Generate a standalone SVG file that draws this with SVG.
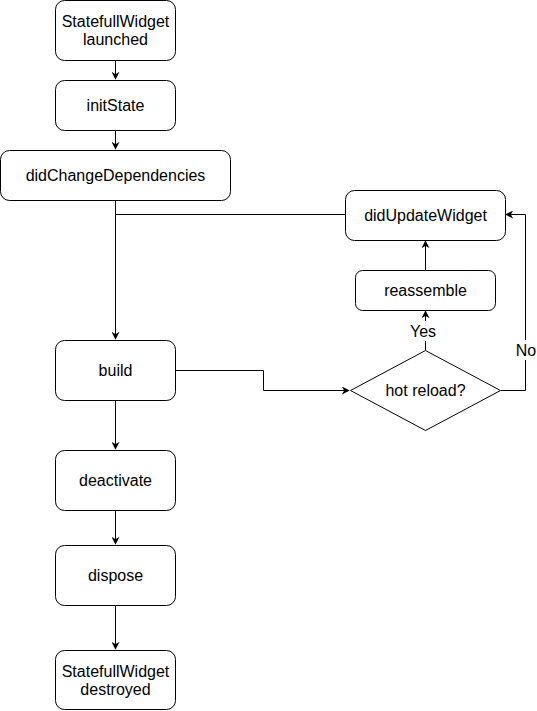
<svg xmlns="http://www.w3.org/2000/svg" width="537" height="711" viewBox="0 0 537 711">
<style>
.n{fill:#fff;stroke:#000;stroke-width:1}
.t{font-family:"Liberation Sans",Arial,sans-serif;font-size:16px;fill:#000;text-anchor:middle}
.c{fill:none;stroke:#000;stroke-width:1}
</style>
<defs>
<marker id="a" viewBox="0 0 10 10" refX="9" refY="5" markerWidth="8" markerHeight="8" markerUnits="userSpaceOnUse" orient="auto">
<path d="M0,0 L10,5 L0,10 L3,5 Z" fill="#000"/>
</marker>
</defs>
<rect width="537" height="711" fill="#fff"/>
<g id="connectors">
<path class="c" d="M115.5,60.5 V79" marker-end="url(#a)"/>
<path class="c" d="M115.5,130.5 V149" marker-end="url(#a)"/>
<path class="c" d="M115.5,200.5 V339" marker-end="url(#a)"/>
<path class="c" d="M345.5,214.5 H115.5"/>
<path class="c" d="M175.5,370.5 H263.5 V390.5 H349" marker-end="url(#a)"/>
<path class="c" d="M425.5,350.5 V311" marker-end="url(#a)"/>
<path class="c" d="M425.5,270.5 V241" marker-end="url(#a)"/>
<path class="c" d="M500.5,390.5 H525.5 V214.5 H506" marker-end="url(#a)"/>
<path class="c" d="M115.5,400.5 V449" marker-end="url(#a)"/>
<path class="c" d="M115.5,510.5 V544" marker-end="url(#a)"/>
<path class="c" d="M115.5,605.5 V649" marker-end="url(#a)"/>
<rect x="407" y="321" width="36" height="20" fill="#fff"/>
<text class="t" x="423" y="337">Yes</text>
<rect x="513" y="340" width="26" height="20" fill="#fff"/>
<text class="t" x="526" y="356">No</text>
</g>
<g id="launched"><rect class="n" x="55.5" y="0.5" width="120" height="60" rx="9"/><text class="t" x="115.5" y="26.5">StatefullWidget</text><text class="t" x="115.5" y="45">launched</text></g>
<g id="initState"><rect class="n" x="55.5" y="80.5" width="120" height="50" rx="9"/><text class="t" x="115.5" y="111">initState</text></g>
<g id="didChangeDependencies"><rect class="n" x="0.5" y="150.5" width="230" height="50" rx="9"/><text class="t" x="115.5" y="181">didChangeDependencies</text></g>
<g id="didUpdateWidget"><rect class="n" x="345.5" y="190.5" width="160" height="50" rx="9"/><text class="t" x="425.5" y="221">didUpdateWidget</text></g>
<g id="reassemble"><rect class="n" x="355.5" y="270.5" width="140" height="40" rx="7"/><text class="t" x="425.5" y="296">reassemble</text></g>
<g id="hotReload"><path class="n" d="M425.5,350.5 L500.5,390.5 L425.5,430.5 L350.5,390.5 Z"/><text class="t" x="425.5" y="396">hot reload?</text></g>
<g id="build"><rect class="n" x="55.5" y="340.5" width="120" height="60" rx="9"/><text class="t" x="115.5" y="376">build</text></g>
<g id="deactivate"><rect class="n" x="55.5" y="450.5" width="120" height="60" rx="9"/><text class="t" x="115.5" y="486">deactivate</text></g>
<g id="dispose"><rect class="n" x="55.5" y="545.5" width="120" height="60" rx="9"/><text class="t" x="115.5" y="581">dispose</text></g>
<g id="destroyed"><rect class="n" x="55.5" y="650.5" width="120" height="59" rx="9"/><text class="t" x="115.5" y="676.5">StatefullWidget</text><text class="t" x="115.5" y="695">destroyed</text></g>
</svg>
